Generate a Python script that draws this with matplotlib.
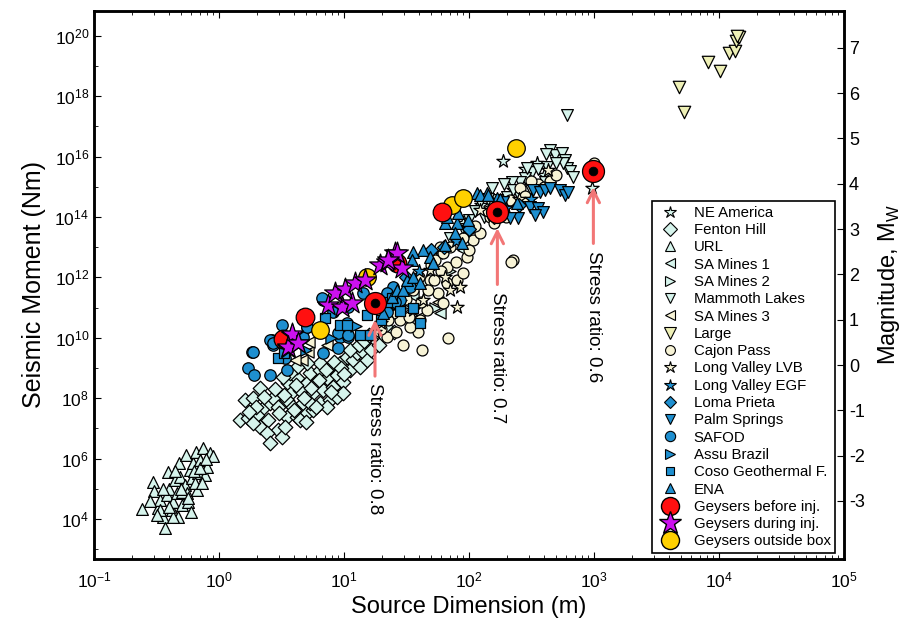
import numpy as np
import matplotlib
matplotlib.use("Agg")
import matplotlib.pyplot as plt
from matplotlib.ticker import FixedLocator, NullFormatter, LogFormatterSciNotation
from matplotlib.lines import Line2D

plt.rcParams['font.family'] = ['Liberation Sans', 'DejaVu Sans']

# ---------------- data (log10 source dimension [m], log10 seismic moment [Nm]) ----------------
url_logL = [-0.619, -0.525, -0.517, -0.485, -0.472, -0.445, -0.432, -0.419, -0.405, -0.397,
            -0.379, -0.365, -0.352, -0.339, -0.325, -0.317, -0.312, -0.299, -0.272, -0.264,
            -0.259, -0.245, -0.232, -0.227, -0.219, -0.205, -0.184, -0.179, -0.165, -0.152,
            -0.125, -0.112, -0.093, -0.072, -0.051, -0.192, -0.299, -0.365, -0.472, -0.139,
            -0.55, -0.40, -0.30, -0.20, -0.35, -0.25, -0.15, -0.10, -0.45, -0.50]
url_logM = [4.33, 5.236, 4.927, 4.353, 4.629, 4.055, 3.691, 4.795, 5.567, 4.982,
            4.298, 4.574, 5.291, 4.85, 4.055, 5.843, 5.402, 4.464, 5.126, 6.119,
            4.85, 4.574, 5.622, 4.243, 5.347, 5.843, 6.23, 4.96, 5.512, 5.954,
            6.34, 5.457, 5.733, 6.174, 6.086, 5.181, 4.905, 4.077, 4.298, 5.181,
            4.6, 4.4, 5.0, 5.6, 5.6, 4.7, 5.7, 6.0, 5.0, 4.15]

fenton_logL = [0.208, 0.275, 0.328, 0.355, 0.168, 0.235, 0.301, 0.408, 0.395, 0.435,
               0.475, 0.475, 0.501, 0.328, 0.381, 0.555, 0.581, 0.541, 0.621, 0.648,
               0.595, 0.675, 0.701, 0.728, 0.755, 0.781, 0.808, 0.835, 0.861, 0.888,
               0.915, 0.941, 0.968, 0.995, 1.021, 1.048, 1.075, 1.101, 1.128, 1.155,
               1.181, 0.541, 0.621, 0.701, 0.755, 0.808, 0.888, 0.941, 0.995, 0.808,
               0.701, 0.621, 0.568, 0.515, 0.648, 0.408, 0.728, 0.861, 0.528, 0.275,
               1.25, 1.30, 1.22, 1.35, 1.28, 1.40,
               0.45, 0.52, 0.60, 0.68, 0.74, 0.80, 0.86, 0.92, 0.98, 1.05,
               1.12, 0.70, 0.78, 0.90, 1.00, 0.62, 0.48, 0.30, 0.24, 0.36, 1.16, 1.20]
fenton_logM = [7.94, 7.995, 8.326, 7.664, 7.278, 7.333, 7.443, 7.83, 7.278, 7.995,
               7.719, 6.947, 6.726, 7.057, 6.836, 8.492, 8.216, 7.94, 8.657, 8.271,
               7.719, 7.83, 8.492, 8.823, 8.161, 8.547, 8.933, 8.271, 8.657, 9.044,
               8.381, 8.768, 9.154, 8.547, 9.375, 8.933, 9.264, 9.485, 9.044, 9.54,
               9.264, 7.388, 7.388, 7.498, 7.609, 7.83, 7.94, 8.05, 8.161, 9.154,
               9.154, 9.044, 8.823, 8.713, 7.278, 6.505, 7.83, 7.719, 7.057, 7.168,
               9.9, 10.1, 9.6, 10.3, 9.75, 10.2,
               8.3, 8.1, 7.6, 8.0, 8.35, 8.6, 8.95, 9.2, 9.0, 9.6,
               9.75, 7.2, 7.7, 8.2, 8.8, 8.45, 7.5, 7.7, 7.55, 8.05, 9.9, 10.1]

ne_logL = [2.275, 2.981, 2.541, 1.95, 2.10, 2.35, 2.60, 1.75, 2.45, 2.20]
ne_logM = [15.865, 14.949, 15.777, 13.8, 14.4, 14.9, 15.4, 12.8, 15.6, 14.1]

sa1_logL = [1.768, 1.55, 1.95, 1.40, 2.20]
sa1_logM = [10.81, 11.4, 12.9, 10.9, 14.0]

sa2_logL = [1.73, 1.85, 1.50, 2.00, 1.65]
sa2_logM = [11.0, 12.2, 11.0, 13.5, 11.8]

mammoth_logL = [2.648, 2.688, 2.741, 2.768, 2.781, 2.808, 2.755, 2.608, 2.501, 2.448,
                2.408, 2.341, 2.301, 2.221, 2.181, 2.088, 2.461, 2.621, 2.835, 2.784,
                1.95, 2.00, 2.05, 2.12, 2.30, 2.40, 2.50, 1.85, 1.70,
                2.55, 2.70, 2.62, 2.35, 2.28, 2.15]
mammoth_logM = [16.218, 16.053, 16.108, 15.887, 15.611, 15.534, 15.777, 15.17, 15.501, 15.28,
                15.17, 15.17, 14.673, 14.563, 14.949, 14.508, 15.611, 15.667, 15.336, 17.38,
                13.6, 13.9, 14.2, 14.0, 14.3, 14.7, 14.9, 13.3, 12.6,
                15.6, 15.8, 16.1, 14.9, 15.1, 14.6]

sa3_logL = [0.715, 0.661, 0.861, 0.61, 0.72, 1.75, 1.60]
sa3_logM = [9.54, 9.27, 9.76, 9.27, 9.87, 11.2, 10.7]

large_logL = [3.683, 3.720, 3.915, 4.008, 4.083, 4.128, 4.136, 4.163, 4.147]
large_logM = [18.316, 17.466, 19.143, 18.845, 19.419, 19.508, 19.839, 19.971, 19.993]

cajon_logL = [1.768, 1.728, 1.821, 1.688, 1.755, 1.795, 1.661, 1.608, 1.621, 1.595,
              1.821, 1.901, 1.981, 2.035, 2.088, 2.168, 1.955, 1.795, 2.355, 1.528,
              1.448, 1.675, 1.341, 1.395, 2.408, 2.328, 2.195, 3.0, 2.34, 1.47,
              1.30, 1.35, 1.45, 1.50, 1.55, 1.60, 1.70, 1.85, 1.95, 2.05,
              2.15, 2.25, 2.45, 2.55, 2.65, 2.70, 1.83,
              1.62, 1.72, 1.90, 2.00, 1.78, 2.30, 2.50, 2.60, 2.20, 1.42, 1.52]
cajon_logM = [13.018, 12.576, 12.355, 11.914, 11.472, 11.141, 10.92, 10.589, 9.596, 10.203,
              11.804, 11.914, 12.686, 13.238, 13.459, 14.011, 12.135, 12.797, 12.576, 10.368,
              10.589, 11.583, 10.037, 10.81, 14.949, 14.563, 14.011, 15.8, 12.5, 9.75,
              10.3, 10.6, 11.0, 11.3, 11.6, 12.0, 12.4, 13.0, 13.3, 13.7,
              14.2, 14.5, 14.7, 15.1, 15.2, 15.4, 9.99,
              11.2, 11.9, 12.5, 12.9, 12.2, 14.0, 15.2, 15.0, 13.8, 10.2, 10.7]

lvb_logL = [1.901, 1.848, 1.808, 1.928, 1.688, 1.981, 2.088, 1.635, 1.555, 2.635,
            1.30, 1.35, 1.25, 2.40]
lvb_logM = [11.031, 11.583, 12.024, 11.693, 12.245, 13.68, 14.232, 11.252, 10.92, 15.556,
            10.5, 10.9, 10.2, 14.6]

egf_logL = [1.45, 1.60, 1.90, 2.30, 2.50, 1.35]
egf_logM = [11.2, 12.2, 13.2, 14.3, 14.6, 11.0]

loma_logL = [1.50, 1.70, 2.00, 2.20, 1.80, 2.40]
loma_logM = [12.0, 12.9, 13.6, 14.0, 13.0, 14.4]

palm_logL = [2.515, 2.568, 2.608, 2.648, 2.728, 2.768, 2.795, 2.488, 2.555, 2.595,
             2.528, 2.395, 2.328, 2.275]
palm_logM = [14.894, 14.839, 14.894, 14.949, 14.894, 14.728, 14.839, 14.342, 14.287, 14.176,
             14.066, 13.956, 13.956, 14.508]

safod_logL = [0.261, 0.235, 0.28, 0.408, 0.421, 0.435, 0.501, 0.541, 0.701, 0.835,
              0.968, 1.035, 1.021, 0.915, 1.035, 0.835, 1.155, 1.341, 1.341, 1.395,
              1.448, 1.528, 0.528, 0.675, 0.275, 0.408, 0.435, 0.821, 0.701, 0.955,
              1.035, 0.955, 1.341, 1.408]
safod_logM = [9.541, 8.989, 8.768, 8.768, 9.927, 9.762, 10.424, 8.934, 10.369, 9.486,
              10.038, 10.038, 10.479, 10.865, 11.031, 11.252, 11.472, 11.252, 10.865, 11.693,
              11.252, 11.693, 9.32, 10.038, 9.541, 9.928, 9.817, 11.307, 10.369, 10.148,
              10.093, 9.652, 11.473, 11.197]

assu_logL = [0.70, 0.90, 1.10]
assu_logM = [9.6, 10.0, 10.4]

coso_logL = [0.848, 0.968, 1.021, 1.181, 1.341, 1.381, 1.128, 1.208, 1.608, 1.45,
             1.55, 1.30, 0.47, 0.52]
coso_logM = [10.645, 10.424, 10.424, 10.755, 11.197, 11.307, 10.093, 10.093, 10.479, 10.9,
             11.0, 10.6, 9.35, 9.5]

ena_logL = [1.808, 1.901, 1.888, 1.808, 1.941, 1.635, 1.555, 1.688, 1.715, 1.541,
            2.061, 2.141, 1.821, 1.995, 2.221, 2.381, 1.381, 1.421, 1.475, 1.501,
            1.555, 1.608, 1.888, 1.915, 2.088, 2.155, 2.248, 1.315]
ena_logM = [13.79, 13.79, 13.459, 13.073, 13.128, 12.907, 12.852, 12.686, 12.466, 12.576,
            14.784, 14.784, 14.011, 13.9, 14.618, 14.452, 11.362, 11.583, 11.583, 11.914,
            12.024, 11.804, 14.342, 14.121, 14.728, 14.728, 14.585, 10.81]

before_logL = [0.688, 0.509, 1.421, 1.781]
before_logM = [10.678, 9.961, 12.466, 14.154]

stress_logL = [1.248, 2.227, 2.995]
stress_logM = [11.142, 14.176, 15.534]
stress_labels = ["Stress ratio: 0.8", "Stress ratio: 0.7", "Stress ratio: 0.6"]

during_logL = [0.581, 0.635, 0.555, 0.581, 0.555, 0.635, 0.875, 0.981, 1.061, 0.928,
               1.008, 1.088, 1.168, 1.288, 1.341, 1.408, 1.461, 1.421, 1.355]
during_logM = [10.092, 9.816, 9.651, 10.126, 9.707, 9.817, 11.087, 11.031, 11.142, 11.473,
               11.605, 11.804, 11.914, 12.411, 12.521, 12.797, 12.301, 12.797, 12.576]

outside_logL = [0.808, 1.181, 1.861, 1.955, 2.376]
outside_logM = [10.259, 12.025, 14.397, 14.618, 16.296]

x_decades = [-1, 0, 1, 2, 3, 4, 5]
y_decades = [4, 6, 8, 10, 12, 14, 16, 18, 20]
mw_ticks = [-3, -2, -1, 0, 1, 2, 3, 4, 5, 6, 7]

# ---------------- styles ----------------
CYAN = '#d6f4ec'
CREAM = '#f7f3d6'
LARGE = '#eef0b6'
BLUE = '#1e8fd0'
RED = '#ff1010'
MAG = '#cc11ee'
YEL = '#ffd000'

series = [
    ("NE America", ne_logL, ne_logM, '*', CYAN, 100),
    ("Fenton Hill", fenton_logL, fenton_logM, 'D', CYAN, 55),
    ("URL", url_logL, url_logM, '^', CYAN, 72),
    ("SA Mines 1", sa1_logL, sa1_logM, '<', CYAN, 65),
    ("SA Mines 2", sa2_logL, sa2_logM, '>', CYAN, 65),
    ("Mammoth Lakes", mammoth_logL, mammoth_logM, 'v', CYAN, 72),
    ("SA Mines 3", sa3_logL, sa3_logM, '<', CREAM, 65),
    ("Large", large_logL, large_logM, 'v', LARGE, 80),
    ("Cajon Pass", cajon_logL, cajon_logM, 'o', CREAM, 62),
    ("Long Valley LVB", lvb_logL, lvb_logM, '*', CREAM, 100),
    ("Long Valley EGF", egf_logL, egf_logM, '*', BLUE, 100),
    ("Loma Prieta", loma_logL, loma_logM, 'D', BLUE, 50),
    ("Palm Springs", palm_logL, palm_logM, 'v', BLUE, 72),
    ("SAFOD", safod_logL, safod_logM, 'o', BLUE, 68),
    ("Assu Brazil", assu_logL, assu_logM, '>', BLUE, 65),
    ("Coso Geothermal F.", coso_logL, coso_logM, 's', BLUE, 50),
    ("ENA", ena_logL, ena_logM, '^', BLUE, 72),
]

fig = plt.figure(figsize=(9.16, 6.26), dpi=100)
ax = fig.add_axes([94/916, 1-559/626, 750/916, 548/626])
ax.set_xscale('log')
ax.set_yscale('log')

for name, lx, lm, mk, fc, s in series:
    ax.scatter(10**np.array(lx), 10**np.array(lm), marker=mk, s=s, facecolor=fc,
               edgecolor='black', linewidth=0.9, zorder=2 + (1 if fc == BLUE else 0))

ax.scatter(10**np.array(outside_logL), 10**np.array(outside_logM), marker='o', s=160,
           facecolor=YEL, edgecolor='black', linewidth=0.9, zorder=5)
ax.scatter(10**np.array(before_logL), 10**np.array(before_logM), marker='o', s=180,
           facecolor=RED, edgecolor='black', linewidth=0.9, zorder=5)
ax.scatter(10**np.array(during_logL), 10**np.array(during_logM), marker='*', s=270,
           facecolor=MAG, edgecolor='black', linewidth=0.9, zorder=6)
ax.scatter(10**np.array(stress_logL), 10**np.array(stress_logM), marker='o', s=250,
           facecolor=RED, edgecolor='black', linewidth=0.9, zorder=7)
ax.scatter(10**np.array(stress_logL), 10**np.array(stress_logM), marker='o', s=40,
           facecolor='black', edgecolor='black', linewidth=0.5, zorder=8)

# stress ratio arrows and labels
for lx, lm, lab in zip(stress_logL, stress_logM, stress_labels):
    x = 10**lx
    ax.annotate('', xy=(x, 10**(lm - 0.45)), xytext=(x, 10**(lm - 2.5)),
                arrowprops=dict(arrowstyle='->', color='#f27676', lw=2.2,
                                mutation_scale=22), zorder=4)
    ax.text(x, 10**(lm - 2.65), lab, rotation=270, ha='center', va='top',
            fontsize=13.5, zorder=4)

ax.set_xlim(1e-1, 1e5)
ax.set_ylim(10**2.68, 10**20.82)

ax.xaxis.set_major_locator(FixedLocator([10.0**k for k in x_decades]))
ax.xaxis.set_major_formatter(LogFormatterSciNotation(base=10))
ax.xaxis.set_minor_locator(FixedLocator([m * 10.0**k for k in x_decades[:-1] for m in range(2, 10)]))
ax.xaxis.set_minor_formatter(NullFormatter())
ax.yaxis.set_major_locator(FixedLocator([10.0**k for k in y_decades]))
ax.yaxis.set_major_formatter(LogFormatterSciNotation(base=10))
ax.yaxis.set_minor_locator(FixedLocator([10.0**k for k in range(3, 21, 2)]))
ax.yaxis.set_minor_formatter(NullFormatter())
ax.tick_params(which='both', direction='in', top=True, right=False, labelsize=12.5)
ax.tick_params(which='major', length=5)
ax.tick_params(which='minor', length=3)
ax.tick_params(axis='x', pad=8)
for sp in ax.spines.values():
    sp.set_linewidth(1.8)

ax.set_xlabel('Source Dimension (m)', fontsize=17, labelpad=4)
ax.set_ylabel('Seismic Moment (Nm)', fontsize=18, labelpad=6)

ax2 = ax.twinx()
ax2.set_ylim((2.68 - 9.1) * 2 / 3, (20.82 - 9.1) * 2 / 3)
ax2.set_yticks(mw_ticks)
ax2.set_yticklabels([str(t) for t in mw_ticks])
ax2.tick_params(direction='in', length=5, labelsize=13)
ax2.set_ylabel('Magnitude, M$_\\mathregular{W}$', fontsize=17, labelpad=8)
for sp in ax2.spines.values():
    sp.set_linewidth(1.8)

# legend
handles = []
for name, lx, lm, mk, fc, s in series:
    handles.append(Line2D([], [], linestyle='none', marker=mk, markersize=np.sqrt(s) * 0.9,
                          markerfacecolor=fc, markeredgecolor='black', markeredgewidth=0.8,
                          label=name))
handles.append(Line2D([], [], linestyle='none', marker='o', markersize=13,
                      markerfacecolor=RED, markeredgecolor='black', label='Geysers before inj.'))
handles.append(Line2D([], [], linestyle='none', marker='*', markersize=17,
                      markerfacecolor=MAG, markeredgecolor='black', label='Geysers during inj.'))
handles.append(Line2D([], [], linestyle='none', marker='o', markersize=13,
                      markerfacecolor=YEL, markeredgecolor='black', label='Geysers outside box'))
leg = ax2.legend(handles=handles, loc='lower right', bbox_to_anchor=(835/916, 1-553/626),
                 bbox_transform=fig.transFigure, borderaxespad=0, fancybox=False,
                 edgecolor='black', framealpha=1, fontsize=10.8, labelspacing=0.22,
                 handletextpad=0.7, borderpad=0.3, handlelength=1.8)
leg.get_frame().set_linewidth(1.2)
leg.set_zorder(20)

fig.savefig('out.png', dpi=100)
